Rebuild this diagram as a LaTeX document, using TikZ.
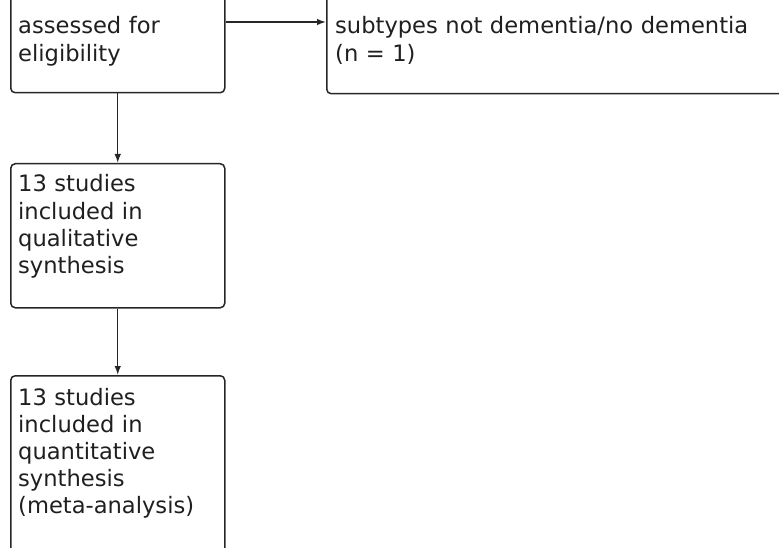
\documentclass[tikz,border=0pt]{standalone}
\usepackage{fontspec}
\setmainfont{DejaVu Sans}
\usetikzlibrary{arrows.meta}
\begin{document}
\begin{tikzpicture}[x=1pt,y=1pt,
  box/.style={draw=black!85,line width=1.5pt,rounded corners=4.5pt,inner sep=0pt,anchor=north west},
  txt/.style={anchor=base west,inner sep=0pt,align=left,text width=420pt,text=black!88,
    font=\fontsize{22.6}{27.2}\selectfont},
  conn/.style={draw=black!85,line width=1.4pt},
  arr/.style={conn,-{Latex[length=9pt,width=6.5pt]}}]
\useasboundingbox (0,0) rectangle (779,-548);
\clip (0,0) rectangle (779,-548);
% boxes
\node[box,minimum width=214pt,minimum height=152pt] (b1) at (10,60) {};
\node[box,minimum width=600pt,minimum height=153pt] (b2) at (326,60) {};
\node[box,minimum width=214pt,minimum height=144pt] (b3) at (10,-163) {};
\node[box,minimum width=214pt,minimum height=240pt] (b4) at (10,-375) {};
% texts
\node[txt] (t1) at (18,-34) {assessed for\\eligibility};
\node[txt] (t2) at (335,-34) {subtypes not dementia/no dementia\\(n = 1)};
\node[txt] (t3) at (18,-192) {13 studies\\included in\\qualitative\\synthesis};
\node[txt] (t4) at (18,-405) {13 studies\\included in\\quantitative\\synthesis\\(meta-analysis)};
% connectors
\coordinate (ya) at (0,-22);
\draw[arr] (b1.east |- ya) -- (b2.west |- ya);
\draw[arr] (b1.south) -- (b3.north);
\draw[arr] (b3.south) -- (b4.north);
\end{tikzpicture}
\end{document}
